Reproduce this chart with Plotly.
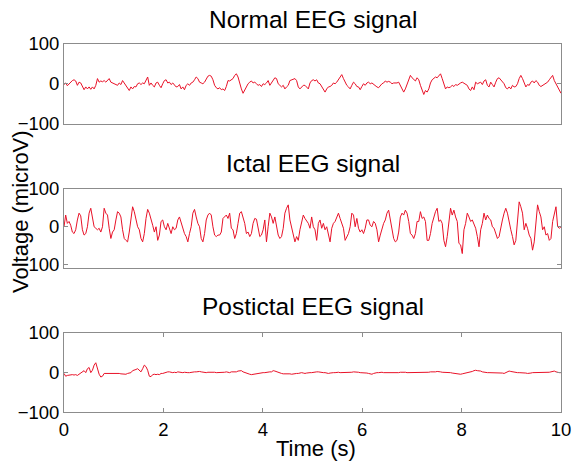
import numpy as np
import plotly.graph_objects as go

# EEG segments (microvolts), uniformly sampled over 10 s
normal_uv = [
    -2, 2, -5, 0, 4, 8, 10, 7, -4, 4, 2, -7, -15, -8, -13, -8, -14, -8, -13, -4,
    13, 4, 7, 5, 8, 4, 10, 13, 4, 2, 0, -2, -4, 2, -2, 8, 2, -7, -13, -17,
    -8, -13, -7, -8, 0, 2, -2, 2, 0, 10, 17, -4, 2, -4, -8, 2, 4, -4, -10, 0,
    8, 10, 2, 4, -2, 2, -4, -8, -7, -2, -13, -8, -15, -4, 0, -4, 2, 4, 10, 17,
    13, 4, 2, 0, 4, 10, 19, 21, 19, 10, -4, -10, -13, -10, -15, -13, -17, -7, 8, 7,
    10, 13, 21, 25, 17, 0, -13, -24, -15, -8, 0, 4, 7, 2, 4, 0, -4, -2, -7, 0,
    -2, 2, 8, -4, 2, 8, 15, 13, 0, -4, -8, -4, -13, -8, -4, 8, 10, 13, 13, 8,
    -8, -13, -8, -4, -4, -8, -13, 2, 8, 10, 7, 10, 2, 0, -8, -17, -21, -13, -8, -7,
    -4, 2, 0, 4, 10, 15, 23, 13, 4, -4, -8, -13, -4, 4, 0, -7, -8, -15, -7, 0,
    -4, 2, 4, 0, 2, -2, -4, -8, -10, -4, 0, 2, 7, 4, 6, 4, 0, 2, 2,
    2, 4, -4, -13, -21, -13, 0, 13, 21, 15, 10, 7, 15, 10, -4, -17, -27, -17, -21, -13,
    2, 10, 13, 17, 15, 21, 25, 13, 0, -13, -8, -10, -8, -4, -7, -2, -4, 0, 2, 4,
    2, -2, -4, -13, -17, -8, -15, 4, 0, 2, 4, -2, 7, 10, -4, -8, 4, -2, -8, 4,
    13, 15, 10, 4, 0, -10, -13, -8, -13, -4, -8, -7, 0, 13, 21, 13, 2, -8, -2, -4,
    4, 7, 2, 8, 4, -4, -7, -4, -2, 0, 4, 10, 17, 21, 8, 0, -8, -15, -24,
]

ictal_uv = [
    0, 31, 9, 14, 4, -14, -18, -8, 18, 36, 29, -8, -22, -18, 0, 36, 49, 26, 0, -4,
    -8, -4, -14, 0, 49, 36, 31, -4, -31, -14, -8, 18, 40, 36, 26, -8, -31, -36, -40, -14,
    18, 53, 40, 22, 0, -8, -31, -40, -18, 22, 46, 36, 22, 4, -14, 0, -36, -22, 14, 18,
    0, -8, 9, -4, -18, 0, -8, -4, 18, 26, 9, -4, -18, -26, -40, -18, 0, 36, 46, 26,
    9, 0, -31, -40, -18, 18, 31, 36, 31, 0, -22, -26, -22, -22, -14, 22, 26, 31, 22, 36,
    -4, -8, -31, -18, 9, 36, 40, 26, 9, -18, -14, -26, -18, 9, 22, 20, 0, -26, -22, -8,
    18, -40, 0, 36, 26, 9, 26, 0, -22, -31, -26, -4, 36, 49, 58, 18, 0, -18, -40, -26,
    -36, -8, 9, 31, 22, 14, 9, -4, 26, 0, -8, -36, 9, 18, -4, 9, -8, 0, -18, -40,
    -4, 9, 14, 26, 36, 22, 9, -4, -36, -26, -18, 0, 36, 31, 0, 22, -4, -14, -8, -18,
    -4, 18, 18, 4, 0, 14, 9, -8, -40, -22, -4, 9, 18, 36, 44, 22, -8, -31, -40,
    -36, -14, 26, 36, 31, 44, 36, 14, -18, -22, -31, -18, 14, 14, 40, 22, 26, 14, -36, -36,
    -18, 9, 26, 40, 49, 14, 18, 9, -36, -53, -26, 18, 49, 31, 44, 26, 14, -44, -48, -71,
    -8, 9, 36, 26, 14, 18, 9, -4, -26, -53, -8, 9, 36, 18, 31, 22, 18, 0, -4, -18,
    -31, -26, 0, 18, 36, 49, 36, 9, -8, -26, -48, -36, 9, 66, 53, 36, -8, 9, -4, -22,
    -31, -62, -40, 14, 58, 40, 26, -8, 0, -22, -18, -36, -31, 14, 36, 53, 0, -4, 0,
]

postictal_uv = [
    -2, -9, -7, -6, -5, -5, -6, -5, -7, -4, -2, 2, 5, 0, 10, 13, 0, 6, 19, 25,
    10, -4, -11, -9, -2, -2, -1, -1, -2, -2, -1, -2, -2, -2, -3, -3, -3, -4, -2, 0,
    0, 5, 6, 8, 10, 5, 2, 10, 19, 15, 6, -9, -10, -5, -4, -5, -4, -5, -2, -2,
    0, 0, 2, 2, 1, 0, 1, 0, 2, 1, 0, 0, 1, 0, 0, 0, 1, 1, 2, 2,
    3, 3, 2, 1, 0, 0, 1, 1, 2, 2, 1, 0, 0, 0, 0, 0, 1, 2, 1, 0,
    2, 2, 1, 2, 4, 5, 5, 2, 0, -1, -2, -4, -5, -4, -4, -3, -2, -1, 0, 0,
    0, 1, 1, 2, 2, 5, 4, 2, 1, 0, -2, -3, -3, -2, -2, -3, -4, -3, -3, -2,
    -2, -1, 0, -1, -2, -1, 0, 0, 0, 1, 1, 2, 2, 1, 0, 0, 0, -1, -2, -1,
    0, 0, 0, 1, 1, 0, 0, 0, 0, 0, 0, 1, 1, 2, 2, 1, 1, 0, 0, 0,
    0, -1, -2, -3, -4, -2, 0, 0, 0, 1, 1, 0, 0, 0, 0, -1, -1, 0, 0,
    0, 0, 1, 1, 2, 1, 0, 0, 1, 1, 0, 0, 0, 0, 0, 1, 1, 1, 0, 1,
    2, 2, 1, 2, 3, 3, 2, 1, 1, 0, 0, 0, 0, -1, -2, -2, -3, -4, -4, -3,
    -2, -1, 0, 0, 1, 3, 5, 6, 5, 5, 4, 2, 1, 0, 0, 0, 0, -1, 0, 0,
    0, 0, 0, -1, -2, 0, 2, 4, 3, 2, 2, 0, 0, 0, 0, 0, 0, -1, -2, -2,
    -1, 0, 0, 0, 0, 0, 0, 1, 1, 0, 0, 1, 2, 3, 4, 2, 0, 0, 0,
]

panel_titles = ["Normal EEG signal", "Ictal EEG signal", "Postictal EEG signal"]
y_ranges = [[-100, 100], [-110, 100], [-100, 100]]
y_ticks = [-100, 0, 100]
x_ticks = [0, 2, 4, 6, 8, 10]

FONT = "Liberation Sans, Arial, Helvetica, sans-serif"
FRAME = "#8c8c8c"
LINE = "rgb(232,18,40)"

W, H = 573, 465
L, R = 64, 12
# vertical pixel extents of each axes box (top, bottom)
boxes = [(44, 123.5), (189, 268.3), (333, 412.3)]

fig = go.Figure()
signals = [normal_uv, ictal_uv, postictal_uv]
for i, sig in enumerate(signals):
    t = np.linspace(0, 10, len(sig))
    fig.add_trace(go.Scatter(
        x=t, y=sig, mode="lines",
        line=dict(color=LINE, width=1),
        xaxis=f"x{i + 1 if i else ''}", yaxis=f"y{i + 1 if i else ''}",
        showlegend=False, hoverinfo="skip",
    ))

layout = dict(
    template="none",
    width=W, height=H,
    margin=dict(l=L, r=R, t=0, b=0, pad=0, autoexpand=False),
    paper_bgcolor="white", plot_bgcolor="white",
    font=dict(family=FONT, color="black", size=18),
    showlegend=False,
)

for i, (top, bot) in enumerate(boxes):
    sfx = str(i + 1) if i else ""
    last = i == 2
    layout[f"xaxis{sfx}"] = dict(
        domain=[0, 1], anchor=f"y{sfx}", range=[0, 10], automargin=False,
        showline=True, linecolor=FRAME, linewidth=1, mirror="ticks" if last else True,
        ticks="inside" if last else "", ticklen=4, tickcolor=FRAME,
        tickvals=x_ticks if last else [], showticklabels=last,
        tickfont=dict(size=18.5, family=FONT, color="black"),
        showgrid=False, zeroline=False, fixedrange=True,
    )
    layout[f"yaxis{sfx}"] = dict(
        domain=[1 - bot / H, 1 - top / H], anchor=f"x{sfx}", range=y_ranges[i],
        automargin=False,
        showline=True, linecolor=FRAME, linewidth=1, mirror="ticks",
        ticks="inside", ticklen=4, tickcolor=FRAME, tickvals=y_ticks,
        tickfont=dict(size=18.5, family=FONT, color="black"),
        showgrid=False, zeroline=False, fixedrange=True,
    )

fig.update_layout(**layout)

title_y = [20, 163, 306]
for txt, yc in zip(panel_titles, title_y):
    fig.add_annotation(
        text=txt, xref="paper", yref="paper", x=0.5, y=1 - yc / H,
        xanchor="center", yanchor="middle", showarrow=False,
        font=dict(size=24.5, family=FONT, color="black"),
    )

fig.add_annotation(
    text="Voltage (microV)", xref="paper", yref="paper",
    x=(20 - L) / (W - L - R), y=1 - 212 / H, textangle=-90,
    xanchor="center", yanchor="middle", showarrow=False,
    font=dict(size=22, family=FONT, color="black"),
)
fig.add_annotation(
    text="Time (s)", xref="paper", yref="paper",
    x=(316 - L) / (W - L - R), y=1 - 448 / H,
    xanchor="center", yanchor="middle", showarrow=False,
    font=dict(size=22, family=FONT, color="black"),
)

fig.write_html("out.html")
